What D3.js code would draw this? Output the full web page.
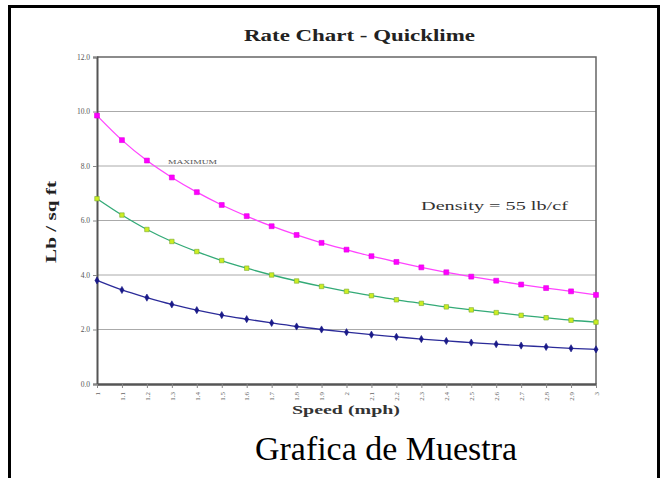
<!DOCTYPE html>
<html>
<head>
<meta charset="utf-8">
<script src="https://cdn.jsdelivr.net/npm/d3@7"></script>
<style>
  body { margin: 0; background: #fff; }
  svg { display: block; font-family: "Liberation Serif", "Times New Roman", serif; }
</style>
</head>
<body>
<div class="chart"></div>
<script>
var speeds = ["1","1.1","1.2","1.3","1.4","1.5","1.6","1.7","1.8","1.9","2",
              "2.1","2.2","2.3","2.4","2.5","2.6","2.7","2.8","2.9","3"];

// maximum rate (magenta)
var maxRate = [9.85, 8.95, 8.2, 7.58, 7.04, 6.57, 6.16, 5.79, 5.47, 5.18, 4.93,
               4.69, 4.48, 4.28, 4.1, 3.94, 3.79, 3.65, 3.52, 3.4, 3.27];
// middle rate (green)
var midRate = [6.8, 6.2, 5.67, 5.23, 4.86, 4.53, 4.25, 4.0, 3.78, 3.58, 3.4,
               3.24, 3.09, 2.96, 2.83, 2.72, 2.62, 2.52, 2.43, 2.34, 2.27];
// minimum rate (navy)
var minRate = [3.8, 3.45, 3.17, 2.92, 2.71, 2.53, 2.38, 2.24, 2.11, 2.0, 1.9,
               1.81, 1.73, 1.65, 1.58, 1.52, 1.46, 1.41, 1.36, 1.31, 1.27];

var yTicks = [0, 2, 4, 6, 8, 10, 12];

var W = 667, H = 478;
var plot = {left: 97, right: 596, top: 57, bottom: 384};

var svg = d3.select("div.chart").append("svg")
    .attr("width", W).attr("height", H);

// outer frame
svg.append("path")
    .attr("d", "M9.5,490 V6.5 H658.5 V490")
    .attr("fill", "none").attr("stroke", "#000").attr("stroke-width", 3);

var x = d3.scalePoint().domain(speeds).range([plot.left, plot.right]);
var y = d3.scaleLinear().domain([0, 12]).range([plot.bottom, plot.top]);

// gridlines
svg.append("g").selectAll("line").data(yTicks.slice(1, -1)).enter().append("line")
    .attr("x1", plot.left).attr("x2", plot.right)
    .attr("y1", d => y(d)).attr("y2", d => y(d))
    .attr("stroke", "#aaa").attr("stroke-width", 1);

// plot frame top/right
svg.append("path")
    .attr("d", `M${plot.left},${plot.top} H${plot.right} V${plot.bottom}`)
    .attr("fill", "none").attr("stroke", "#666").attr("stroke-width", 1.5);

// y axis
var yAxis = svg.append("g")
    .attr("transform", `translate(${plot.left},0)`)
    .call(d3.axisLeft(y).tickValues(yTicks).tickFormat(d3.format(".1f")).tickSize(4));
yAxis.select(".domain").attr("stroke", "#555").attr("stroke-width", 2);
yAxis.selectAll(".tick line").attr("stroke", "#888");
yAxis.selectAll("text").attr("fill", "#555")
    .style("font-family", "Liberation Serif").style("font-size", "7.5px");

// x axis
var xAxis = svg.append("g")
    .attr("transform", `translate(0,${plot.bottom})`)
    .call(d3.axisBottom(x).tickSize(4).tickSizeOuter(0));
xAxis.select(".domain").attr("stroke", "#555").attr("stroke-width", 2.5);
xAxis.selectAll(".tick line").attr("stroke", "#888");
xAxis.selectAll("text")
    .attr("fill", "#666")
    .style("font-family", "Liberation Serif").style("font-size", "7px")
    .attr("transform", "rotate(-90)")
    .attr("text-anchor", "end")
    .attr("x", -8).attr("y", 0).attr("dy", "0.32em");

// series
var series = [
    {values: maxRate, line: "#ff44ff", fill: "#ff00ff", stroke: "#e000e0", shape: d3.symbolSquare, size: 24},
    {values: midRate, line: "#33aa77", fill: "#ccee22", stroke: "#77aa33", shape: d3.symbolSquare, size: 20},
    {values: minRate, line: "#2b2b99", fill: "#1a1a88", stroke: "#1a1a88", shape: d3.symbolDiamond, size: 15}
];

var line = d3.line()
    .x((d, i) => x(speeds[i]))
    .y(d => y(d))
    .curve(d3.curveMonotoneX);

series.forEach(function(s) {
    var g = svg.append("g");
    g.append("path")
        .attr("d", line(s.values))
        .attr("fill", "none").attr("stroke", s.line).attr("stroke-width", 1.3);
    g.selectAll("path.pt").data(s.values).enter().append("path")
        .attr("class", "pt")
        .attr("d", d3.symbol().type(s.shape).size(s.size))
        .attr("transform", (d, i) => `translate(${x(speeds[i])},${y(d)})`)
        .attr("fill", s.fill).attr("stroke", s.stroke).attr("stroke-width", 0.6);
});

// titles and labels (stretched wide like the source image)
function label(px, py, txt, size, weight, len, fill) {
    return svg.append("text")
        .attr("x", px).attr("y", py)
        .attr("font-family", "Liberation Serif")
        .attr("font-size", size).attr("font-weight", weight)
        .attr("textLength", len).attr("lengthAdjust", "spacingAndGlyphs")
        .attr("fill", fill)
        .text(txt);
}

label(244, 41, "Rate Chart - Quicklime", 16, "bold", 231, "#222");
label(292, 414, "Speed (mph)", 13.5, "bold", 108, "#333");
label(421, 210, "Density = 55 lb/cf", 13.5, "normal", 147, "#333");
label(168, 164, "MAXIMUM", 6, "normal", 49, "#555");
label(255, 460, "Grafica de Muestra", 34, "normal", 262, "#000");

svg.append("text")
    .attr("transform", "translate(56,263) rotate(-90)")
    .attr("font-family", "Liberation Serif")
    .attr("font-size", 14).attr("font-weight", "bold")
    .attr("textLength", 82).attr("lengthAdjust", "spacingAndGlyphs")
    .attr("fill", "#222")
    .text("Lb / sq ft");
</script>
</body>
</html>
